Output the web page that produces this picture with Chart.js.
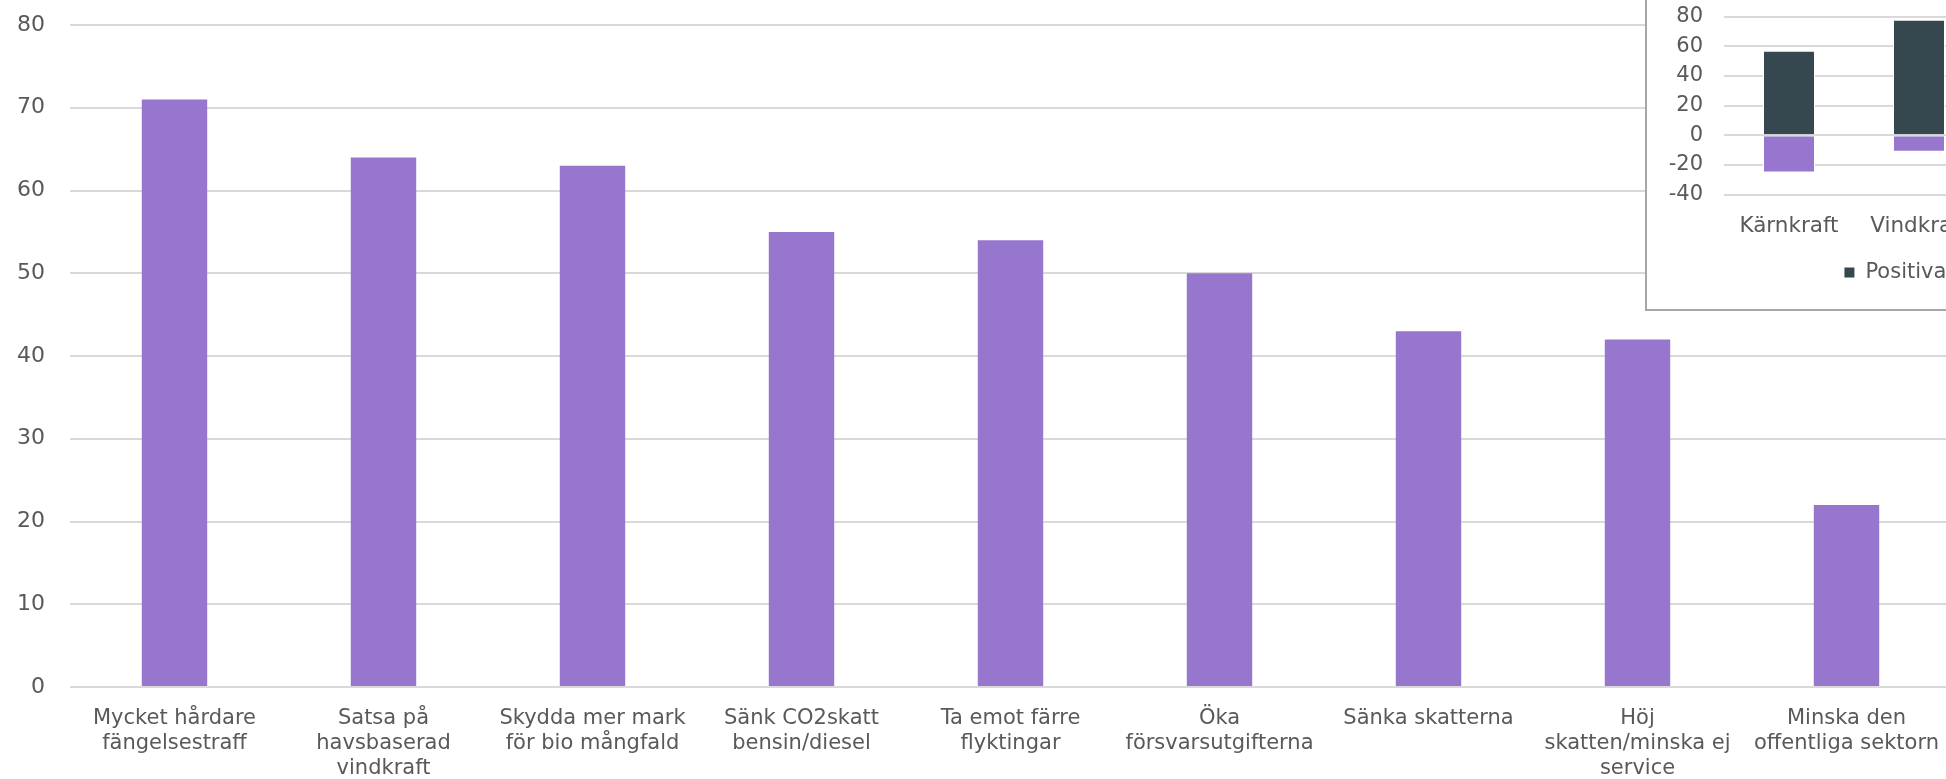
<!DOCTYPE html>
<html>
<head>
<meta charset="utf-8">
<script src="https://cdn.jsdelivr.net/npm/chart.js@4"></script>
<style>
  html, body { margin: 0; padding: 0; background: #fff; overflow: hidden; width: 1946px; height: 779px; }
  #main { position: absolute; left: 0; top: 0; }
  #box { position: absolute; left: 1645px; top: -10px; width: 420px; height: 321px; box-sizing: border-box;
         border: 2px solid #a6a6a6; background: #fff; }
  #inset { position: absolute; left: 1647px; top: 0; }
</style>
</head>
<body>
<canvas id="main" width="1951" height="779"></canvas>
<div id="box"></div>
<canvas id="inset" width="622" height="308"></canvas>
<script>
const categories = [
  ['Mycket hårdare', 'fängelsestraff'],
  ['Satsa på', 'havsbaserad', 'vindkraft'],
  ['Skydda mer mark', 'för bio mångfald'],
  ['Sänk CO2skatt', 'bensin/diesel'],
  ['Ta emot färre', 'flyktingar'],
  ['Öka', 'försvarsutgifterna'],
  ['Sänka skatterna'],
  ['Höj', 'skatten/minska ej', 'service'],
  ['Minska den', 'offentliga sektorn']
];
const values = [71, 64, 63, 55, 54, 50, 43, 42, 22];
const yMin = 0, yMax = 80, yStep = 10;

const insetCategories = ['Kärnkraft', 'Vindkraft'];
const positiva = [57, 78];
const negativa = [-25, -11];
const insetMin = -40, insetMax = 80, insetStep = 20;

const FONT = 'DejaVu Sans';
const TEXT = '#595959';
const GRID = '#d9d9d9';
const PURPLE = '#9777cd';
const DARK = '#37474f';
const CLEAR = 'rgba(0,0,0,0)';

new Chart(document.getElementById('main').getContext('2d'), {
  type: 'bar',
  data: {
    labels: categories,
    datasets: [{
      data: values,
      backgroundColor: PURPLE,
      categoryPercentage: 1,
      barPercentage: 0.313,
    }],
  },
  options: {
    responsive: false,
    animation: false,
    devicePixelRatio: 1,
    layout: { padding: { top: 25, right: 0, bottom: 0, left: 0 } },
    plugins: { legend: { display: false }, tooltip: { enabled: false } },
    scales: {
      x: {
        offset: true,
        grid: { display: false },
        border: { display: false },
        ticks: { color: TEXT, font: { family: FONT, size: 21, lineHeight: 1.2 }, padding: 11, maxRotation: 0, autoSkip: false },
        afterFit: s => { s.height = 92; },
      },
      y: {
        min: yMin, max: yMax,
        // the gap between labels and plot comes from an invisible tick mark
        grid: { color: GRID, lineWidth: 2, drawTicks: true, tickLength: 25, tickColor: CLEAR },
        border: { display: false },
        ticks: { stepSize: yStep, color: TEXT, font: { family: FONT, size: 22, lineHeight: 1.2 }, padding: 0 },
        afterFit: s => { s.width = 70; },
      },
    },
  },
});

new Chart(document.getElementById('inset').getContext('2d'), {
  type: 'bar',
  data: {
    labels: insetCategories,
    datasets: [
      { label: 'Positiva', data: positiva, backgroundColor: DARK, borderColor: '#fff', borderWidth: 1,
        categoryPercentage: 1, barPercentage: 0.4 },
      { label: 'Negativa', data: negativa, backgroundColor: PURPLE, borderColor: '#fff', borderWidth: 1,
        categoryPercentage: 1, barPercentage: 0.4 },
    ],
  },
  options: {
    responsive: false,
    animation: false,
    devicePixelRatio: 1,
    layout: { padding: { top: 16.7, right: 0, bottom: 15, left: 0 } },
    plugins: {
      tooltip: { enabled: false },
      legend: {
        position: 'bottom',
        labels: { color: TEXT, font: { family: FONT, size: 21 }, boxWidth: 11, boxHeight: 11, padding: 10 },
      },
    },
    scales: {
      x: {
        stacked: true,
        grid: { display: false },
        border: { display: false },
        ticks: { color: TEXT, font: { family: FONT, size: 21.5, lineHeight: 1.2 }, padding: 11, maxRotation: 0 },
        afterFit: s => { s.height = 57.3; },
      },
      y: {
        stacked: true,
        min: insetMin, max: insetMax,
        grid: { color: GRID, lineWidth: 2, drawTicks: true, tickLength: 21, tickColor: CLEAR },
        border: { display: false },
        ticks: { stepSize: insetStep, autoSkip: false, color: TEXT, font: { family: FONT, size: 21, lineHeight: 1.2 }, padding: 0 },
        afterFit: s => { s.width = 77; },
      },
      pad: {
        type: 'linear',
        position: 'right',
        grid: { display: false },
        border: { display: false },
        ticks: { display: false },
        afterFit: s => { s.width = 622 - 77 - 260; },
      },
    },
  },
});
</script>
</body>
</html>
